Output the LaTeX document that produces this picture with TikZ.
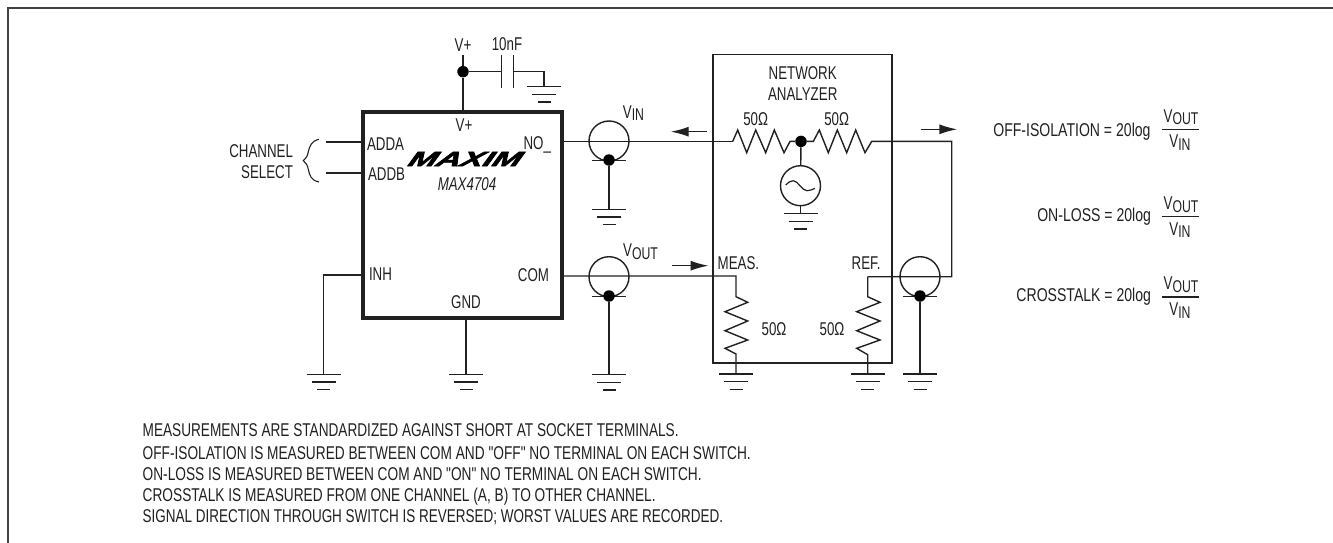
\documentclass[tikz,border=0pt]{standalone}
\usepackage{graphicx}
\usepackage{fontspec}
\setmainfont{Liberation Sans}
\newfontfamily\lbf[FakeStretch=0.72]{Liberation Sans}
\newfontfamily\eqf[FakeStretch=0.76]{Liberation Sans}
\newfontfamily\ntf[FakeStretch=0.74]{Liberation Sans}
\newfontfamily\logof[FakeBold=2.5,FakeSlant=0.25]{Liberation Sans}
\newcommand{\lbl}{\lbf\fontsize{18.5}{20}\selectfont}
\newcommand{\eql}{\eqf\fontsize{18.5}{20}\selectfont}
\newcommand{\sbs}[1]{\raisebox{-2.7pt}{\fontsize{17}{20}\selectfont #1}}
\usetikzlibrary{arrows.meta}
\definecolor{ink}{gray}{0.13}
\tikzset{
  x=1pt,y=-1pt,
  wire/.style={draw=ink,line width=1.4pt},
  thick box/.style={draw=ink,line width=3.6pt,miter limit=10},
  anabox/.style={draw=ink,line width=1.5pt},
  lab/.style={inner sep=0pt,outer sep=0pt,text=ink,font=\lbl,text height=13.4pt,text depth=0pt},
  eqn/.style={lab,anchor=east,font=\eql},
  note/.style={lab,anchor=west,font=\ntf\fontsize{18.5}{20}\selectfont},
  junc/.style={circle,fill=black,inner sep=0pt,minimum size=11.5pt},
  flow/.style={draw=ink,line width=1.4pt,-{Latex[length=18pt,width=10pt]}},
  gnd/.pic={
    \draw[wire] (-17,0) -- (17,0);
    \draw[wire] (-12,7.7) -- (12,7.7);
    \draw[wire] (-6.5,15.4) -- (6.5,15.4);
  },
  coax/.pic={
    \draw[wire] (0,0) circle[radius=20pt];
    \draw[wire] (-17,19.5) -- (17,19.5);
  }
}
\begin{document}
\begin{tikzpicture}
\useasboundingbox (0,0) rectangle (1333,543);
\fill[white] (0,0) rectangle (1333,543);
% page border
\coordinate (bl) at (7.5,543);
\coordinate (tl) at (7.5,8.5);
\coordinate (tr) at (1333,8.5);
\draw[draw=ink!85,line width=2pt] (bl) -- (tl) -- (tr);

% chip
\node[thick box,minimum width=199pt,minimum height=206pt,inner sep=0pt,anchor=north west] (chip) at (361,110) {};
\node[lab] (vpi) at (464,125) {V+};
\node[lab,anchor=west] (adda) at (367,144) {ADDA};
\node[lab,anchor=west] (addb) at (368,174) {ADDB};
\node[lab,anchor=east] (no) at (551,143) {NO\_};
\node[lab,anchor=west] (inh) at (369,274) {INH};
\node[lab,anchor=east] (com) at (549,275) {COM};
\node[lab] (gndl) at (466,301.5) {GND};
\node[inner sep=0pt,text=black] (logo) at (463,159) {\resizebox{112pt}{14pt}{\logof\bfseries\itshape MAXIM}};
\node[lab,font=\lbl\itshape] (part) at (467,184) {MAX4704};

% supply
\node[junc] (vdot) at (463,71.7) {};
\coordinate (vtop) at (463,55);
\coordinate (chipv) at (463,110);
\draw[wire] (vtop) -- (vdot) -- (chipv);
\node[lab] (vp) at (463,45) {V+};
\node[lab] (cval) at (507,44) {10nF};
\coordinate (c1) at (501.7,71.7);
\coordinate (c2) at (513.7,71.7);
\coordinate (cg) at (544,86.7);
\draw[wire] (vdot) -- (c1);
\draw[wire] (501.7,55) -- (501.7,88);
\draw[wire] (513.7,55) -- (513.7,88);
\draw[wire] (c2) -| (cg);
\pic at (cg) {gnd};

% channel select
\coordinate (sa) at (326,142);
\coordinate (ca) at (361,142);
\coordinate (sb) at (326,173);
\coordinate (cb) at (361,173);
\draw[wire] (sa) -- (ca);
\draw[wire] (sb) -- (cb);
\node[lab,anchor=east] (chan) at (293,151) {CHANNEL};
\node[lab,anchor=east] (sel) at (293,172) {SELECT};
\coordinate (bt) at (319,139.3);
\coordinate (bm) at (303.3,160.7);
\coordinate (bb) at (319,182);
\draw[draw=ink,line width=1.1pt] (bt) .. controls (311,141) and (309.5,147) .. (308.5,151) .. controls (307.5,156) and (306,159) .. (bm)
  .. controls (306,162.5) and (307.5,165) .. (308.5,170) .. controls (309.5,175) and (311,180.5) .. (bb);

% coax 1 and left wire
\coordinate (no1) at (560,141.4);
\coordinate (r1a) at (732.7,141.4);
\draw[wire] (no1) -- (r1a);
\pic at (609,141) {coax};
\node[junc] (d1) at (609,160) {};
\coordinate (g1) at (609,209.3);
\draw[wire] (d1) -- (g1);
\pic at (g1) {gnd};
\node[lab] (vin) at (633.5,111.3) {V\sbs{IN}};

% analyzer
\node[anabox,minimum width=179pt,minimum height=308pt,inner sep=0pt,anchor=north west] (ana) at (712,54) {};
\node[lab] (net) at (802.7,73) {NETWORK};
\node[lab] (anl) at (802.7,94) {ANALYZER};
\node[lab] (r1v) at (755.7,119) {50Ω};
\node[lab] (r2v) at (836.7,119) {50Ω};
\node[junc] (mid) at (801,141.4) {};
\draw[wire] (r1a) -- (737.7,130) -- (746.7,152.7) -- (755.7,130) -- (765.7,152.7) -- (774.3,130) -- (784,152.7) -- (790,141.4) -- (mid);
\coordinate (r2b) at (871.7,141.4);
\coordinate (corner) at (951.7,141.4);
\coordinate (refw) at (867.7,276.7);
\draw[wire] (mid) -- (813.3,141.4) -- (819.3,130) -- (828.3,152.7) -- (837.3,130) -- (846.7,152.7) -- (855.7,130) -- (865,152.7) -- (r2b) -- (corner) -- (951.7,276.7) -- (refw);

% source
\node[circle,draw=ink,line width=1.4pt,minimum size=40pt,inner sep=0pt] (src) at (800.5,185.7) {};
\draw[wire] (mid) -- (src);
\coordinate (gs) at (800.5,213.7);
\draw[wire] (src) -- (gs);
\pic at (gs) {gnd};
\draw[wire,line width=1.2pt] (785.7,185) .. controls (789,182) and (791,180.5) .. (793.5,180.7) .. controls (798,181) and (802,190.7) .. (807,190.7) .. controls (810,190.7) and (812.5,189.5) .. (815,188.3);

% arrows
\coordinate (a1s) at (706.7,131.7);
\coordinate (a1e) at (670.7,131.7);
\draw[flow] (a1s) -- (a1e);
\coordinate (a2s) at (920.7,129.3);
\coordinate (a2e) at (957.3,129.3);
\draw[flow] (a2s) -- (a2e);
\coordinate (a3s) at (671.7,265.7);
\coordinate (a3e) at (708.5,265.7);
\draw[flow] (a3s) -- (a3e);

% coax 2 and measure leg
\coordinate (comw) at (560,276);
\coordinate (meas) at (736,276);
\coordinate (mg) at (736,374);
\draw[wire] (comw) -- (meas) -- (736,296.7) -- (747.7,302.3) -- (725,311.7) -- (747.7,321) -- (725,330.7) -- (747.7,340) -- (725,348.3) -- (736,354) -- (mg);
\pic at (mg) {gnd};
\pic at (609,276.7) {coax};
\node[junc] (d2) at (609,296) {};
\coordinate (g2) at (609,374.7);
\draw[wire] (d2) -- (g2);
\pic at (g2) {gnd};
\node[lab] (vout) at (640.5,250) {V\sbs{OUT}};
\node[lab,anchor=west] (mes) at (717.7,263) {MEAS.};
\node[lab] (rm) at (774,329) {50Ω};
\node[lab] (rr) at (832,329) {50Ω};

% ref leg
\coordinate (rg) at (867.7,374);
\draw[wire] (refw) -- (867.7,296.7) -- (880,302.3) -- (856.7,311.7) -- (880,321) -- (856.7,330.7) -- (880,340) -- (856.7,348.3) -- (867.7,354.7) -- (rg);
\pic at (rg) {gnd};
\node[lab,anchor=west] (ref) at (851.7,263) {REF.};

% coax 3
\pic at (920,276.7) {coax};
\node[junc] (d3) at (920,296) {};
\coordinate (g3) at (920,374);
\draw[wire] (d3) -- (g3);
\pic at (g3) {gnd};

% INH, GND
\coordinate (inhc) at (361,275);
\coordinate (inhg) at (323.7,374.3);
\draw[wire] (inhc) -| (inhg);
\pic at (inhg) {gnd};
\coordinate (gndc) at (466,316);
\coordinate (gndg) at (466,374.3);
\draw[wire] (gndc) -- (gndg);
\pic at (gndg) {gnd};

% equations
\node[eqn] (e1) at (1150.5,130) {OFF-ISOLATION = 20log};
\node[eqn] (e2) at (1151,215) {ON-LOSS = 20log};
\node[eqn] (e3) at (1151,295) {CROSSTALK = 20log};
\foreach \n/\yy/\yt/\yb in {1/129.3/115.3/141, 2/216.7/202.7/228.3, 3/297/283/308.6}{
  \coordinate (fa\n) at (1162,\yy);
  \coordinate (fb\n) at (1199,\yy);
  \draw[wire] (fa\n) -- (fb\n);
  \node[lab] (vo\n) at (1181,\yt) {V\sbs{OUT}};
  \node[lab] (vi\n) at (1180,\yb) {V\sbs{IN}};
}

% notes
\node[note] (n1) at (142.7,430) {\scalebox{0.995}[1]{MEASUREMENTS ARE STANDARDIZED AGAINST SHORT AT SOCKET TERMINALS.}};
\node[note] (n2) at (142.7,452.3) {OFF-ISOLATION IS MEASURED BETWEEN COM AND "OFF" NO TERMINAL ON EACH SWITCH.};
\node[note] (n3) at (142.7,473.7) {ON-LOSS IS MEASURED BETWEEN COM AND "ON" NO TERMINAL ON EACH SWITCH.};
\node[note] (n4) at (142.7,494.7) {CROSSTALK IS MEASURED FROM ONE CHANNEL (A, B) TO OTHER CHANNEL.};
\node[note] (n5) at (142.7,516) {\scalebox{0.985}[1]{SIGNAL DIRECTION THROUGH SWITCH IS REVERSED; WORST VALUES ARE RECORDED.}};
\end{tikzpicture}
\end{document}
